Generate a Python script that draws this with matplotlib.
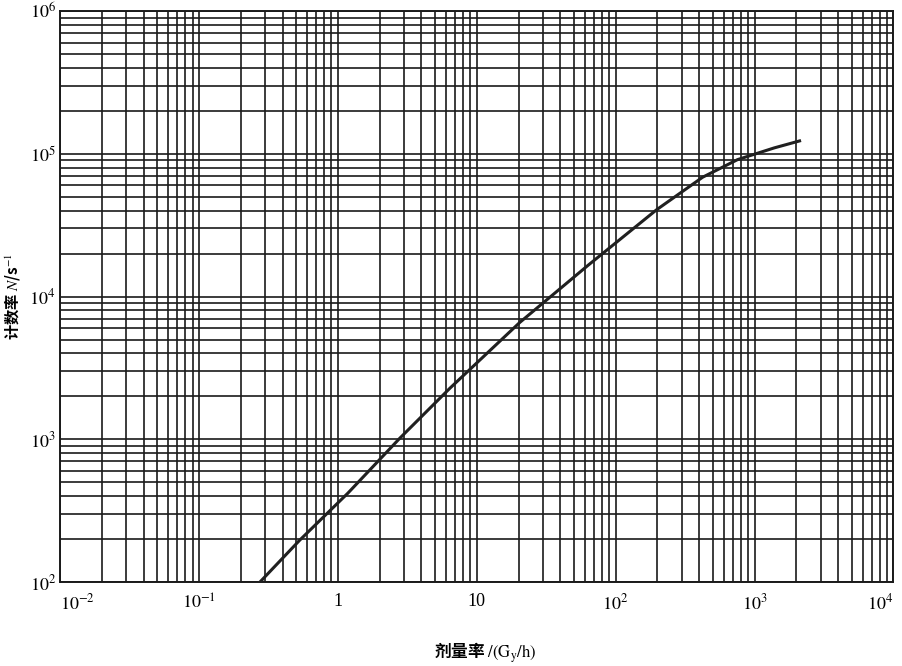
import matplotlib
matplotlib.use("Agg")
import matplotlib.pyplot as plt
from matplotlib.ticker import LogLocator, NullFormatter

plt.rcParams["font.family"] = ["Liberation Serif", "DejaVu Serif"]
plt.rcParams["mathtext.fontset"] = "stix"

# dose rate (Gy/h) vs count rate (1/s)
dose_rate = [0.275, 0.533, 1.18, 2.79, 6.4, 20.4, 63, 197, 423, 755, 1390, 2110]
count_rate = [100, 197, 419, 1016, 2275, 6580, 16480, 40500, 68500, 91000, 110000, 123000]

x_ticks = [1e-2, 1e-1, 1, 10, 1e2, 1e3, 1e4]
x_labels = ["$10^{-2}$", "$10^{-1}$", "1", "10", "$10^{2}$", "$10^{3}$", "$10^{4}$"]
y_ticks = [1e2, 1e3, 1e4, 1e5, 1e6]
y_labels = ["$10^{2}$", "$10^{3}$", "$10^{4}$", "$10^{5}$", "$10^{6}$"]

fig = plt.figure(figsize=(9.02, 6.66), dpi=100)
ax = fig.add_axes([0.0665, 0.126, 0.924, 0.8575])

ax.plot(dose_rate, count_rate, color="#202020", linewidth=2.2, zorder=3)

ax.set_xscale("log")
ax.set_yscale("log")
ax.set_xlim(1e-2, 1e4)
ax.set_ylim(1e2, 1e6)

ax.set_xticks(x_ticks)
ax.set_xticklabels(x_labels, fontsize=13)
ax.set_yticks(y_ticks)
ax.set_yticklabels(y_labels, fontsize=13)
ax.get_xticklabels()[0].set_ha("left")
ax.get_xticklabels()[-1].set_ha("right")
ax.xaxis.set_minor_locator(LogLocator(base=10, subs=range(2, 10), numticks=20))
ax.yaxis.set_minor_locator(LogLocator(base=10, subs=range(2, 10), numticks=20))
ax.xaxis.set_minor_formatter(NullFormatter())
ax.yaxis.set_minor_formatter(NullFormatter())
ax.tick_params(which="both", length=0)
ax.tick_params(axis="x", pad=8)
ax.tick_params(axis="y", pad=3)

ax.grid(True, which="both", color="#1a1a1a", linewidth=1.2)
for s in ax.spines.values():
    s.set_color("#1a1a1a")
    s.set_linewidth(1.4)

cjk = ["Noto Sans CJK SC", "DejaVu Sans"]
ax.set_ylabel("计数率 $N$/s$^{-1}$", fontsize=11, family=cjk, fontweight="bold")
ax.yaxis.set_label_coords(-0.045, 0.5)
ax.set_xlabel("剂量率 $/(\\mathrm{G_y/h})$", fontsize=12, family=cjk, fontweight="bold")
ax.xaxis.set_label_coords(0.51, -0.102)

fig.savefig("out.png", dpi=100)
